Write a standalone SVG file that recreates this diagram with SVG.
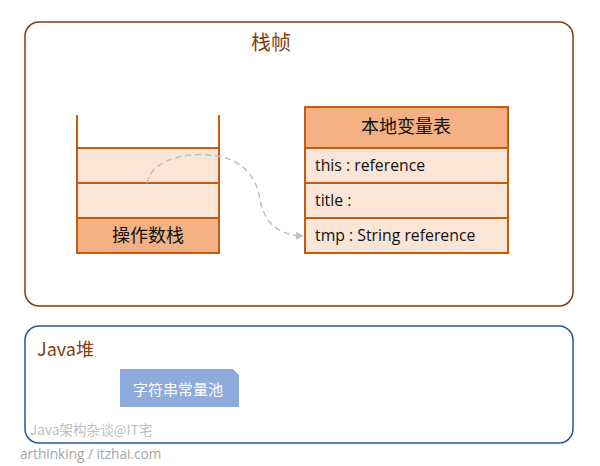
<svg xmlns="http://www.w3.org/2000/svg" width="600" height="466" viewBox="0 0 600 466">
<style>
.cell{stroke:#c55a11;stroke-width:2}
.light{fill:#fbe5d6}
.dark{fill:#f4b183}
.cjk{font-family:"Noto Sans CJK SC","Noto Sans",sans-serif}
.lat{font-family:"Open Sans","Noto Sans CJK SC",sans-serif}
</style>
<defs>
<marker id="arr" viewBox="0 0 10 10" refX="9" refY="5" markerWidth="8" markerHeight="8" orient="auto" markerUnits="userSpaceOnUse">
<path d="M0,0 L10,5 L0,10 z" fill="#bfbfbf"/>
</marker>
</defs>
<rect width="600" height="466" fill="#ffffff"/>
<g id="frame">
<rect x="25" y="22" width="548" height="284" rx="14" fill="#ffffff" stroke="#843c0c" stroke-width="1.5"/>
<text x="271" y="50" class="cjk" font-size="20" fill="#843c0c" text-anchor="middle">栈帧</text>
</g>
<g id="operand-stack">
<rect x="77" y="148" width="142" height="35" class="cell light"/>
<rect x="77" y="183" width="142" height="35" class="cell light"/>
<rect x="77" y="218" width="142" height="35" class="cell dark"/>
<line x1="77" y1="115" x2="77" y2="148" class="cell"/>
<line x1="219" y1="115" x2="219" y2="148" class="cell"/>
<text x="148" y="242" class="cjk" font-size="18" fill="#111111" text-anchor="middle">操作数栈</text>
</g>
<g id="local-vars">
<rect x="305" y="107" width="203" height="41" class="cell dark"/>
<rect x="305" y="148" width="203" height="35" class="cell light"/>
<rect x="305" y="183" width="203" height="35" class="cell light"/>
<rect x="305" y="218" width="203" height="35" class="cell light"/>
<text x="406" y="133" class="cjk" font-size="18" fill="#111111" text-anchor="middle">本地变量表</text>
<text x="315" y="171" class="lat" font-size="15.8" fill="#111111">this : reference</text>
<text x="315" y="206" class="lat" font-size="15.8" fill="#111111">title :</text>
<text x="315" y="241" class="lat" font-size="15.8" fill="#111111">tmp : String reference</text>
</g>
<g id="connectors">
<path d="M147,183 C152,158 190,150 222,157 C250,164 258,185 260,200 C265,225 280,235 303,236" fill="none" stroke="#bfbfbf" stroke-width="1.5" stroke-dasharray="6,4" marker-end="url(#arr)"/>
</g>
<g id="heap">
<rect x="25" y="326" width="548" height="117" rx="14" fill="#ffffff" stroke="#2f5597" stroke-width="1.5"/>
<text x="37" y="356" class="cjk" font-size="18" fill="#843c0c">Java堆</text>
</g>
<g id="string-pool">
<path d="M120,369 H233 L239,375 V407 H120 Z" fill="#8faadc"/>
<text x="178" y="395" class="cjk" font-size="15" fill="#ffffff" text-anchor="middle">字符串常量池</text>
</g>
<text x="30" y="435" class="cjk" font-size="13.6" fill="#bfbfbf">Java架构杂谈@IT宅</text>
<text x="20" y="459" class="lat" font-size="13.6" fill="#a6a6a6">arthinking / itzhai.com</text>
</svg>
